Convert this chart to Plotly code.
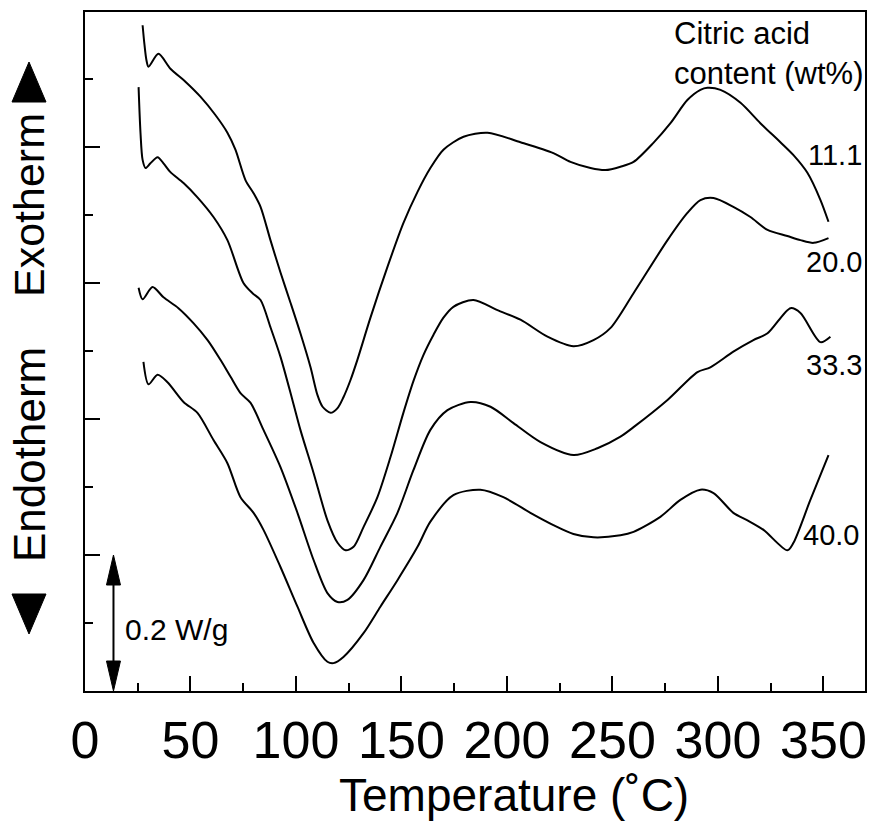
import plotly.graph_objects as go

# ---- data (Temperature in deg C, heat flow in W/g, curves offset) ----
temp_11 = [27.3, 28.2, 29.1, 30.1, 34.8, 40.5, 47.6, 54.7, 61.8, 67.5, 71.3, 76.1, 79.9, 83.2, 87.9,
           92.7, 97.4, 102.1, 106.9, 110.2, 112.6, 116.4, 119.7, 122.5, 125.8, 129.1, 135.3, 143.4,
           150.9, 157.6, 163.7, 169.9, 179.4, 190.8, 206.4, 222.0, 230.1, 239.6, 246.7, 253.8, 260.0,
           269.4, 277.5, 285.5, 291.7, 295.0, 301.2, 310.7, 320.1, 329.6, 335.8, 342.4, 348.6, 352.4]
flow_11 = [0.979, 0.950, 0.928, 0.918, 0.937, 0.915, 0.896, 0.874, 0.847, 0.821, 0.796, 0.751, 0.732,
           0.712, 0.663, 0.615, 0.571, 0.526, 0.476, 0.435, 0.418, 0.409, 0.416, 0.432, 0.457, 0.487,
           0.549, 0.624, 0.688, 0.734, 0.769, 0.796, 0.815, 0.821, 0.807, 0.791, 0.778, 0.769, 0.766,
           0.771, 0.778, 0.806, 0.835, 0.869, 0.884, 0.887, 0.884, 0.865, 0.835, 0.807, 0.788, 0.762,
           0.722, 0.690]

temp_20 = [25.4, 26.3, 27.3, 28.7, 31.0, 34.4, 37.2, 40.5, 46.7, 53.3, 60.9, 67.5, 75.1, 79.4, 83.2,
           87.9, 92.7, 98.3, 102.1, 108.3, 114.9, 119.7, 123.5, 127.3, 132.0, 138.6, 144.8, 150.9,
           155.7, 160.4, 165.2, 169.9, 174.6, 184.1, 195.5, 206.4, 219.2, 231.5, 241.0, 249.1, 260.0,
           276.1, 285.5, 291.7, 297.9, 307.3, 315.4, 323.5, 332.9, 339.1, 345.3, 352.4]
flow_20 = [0.888, 0.821, 0.781, 0.769, 0.776, 0.785, 0.776, 0.763, 0.747, 0.726, 0.697, 0.663, 0.600,
           0.585, 0.575, 0.535, 0.491, 0.428, 0.384, 0.321, 0.251, 0.218, 0.207, 0.212, 0.241, 0.285,
           0.344, 0.409, 0.456, 0.494, 0.524, 0.549, 0.565, 0.575, 0.560, 0.546, 0.521, 0.507, 0.516,
           0.534, 0.585, 0.663, 0.703, 0.722, 0.725, 0.712, 0.697, 0.678, 0.669, 0.663, 0.659, 0.666]

temp_33 = [25.4, 27.3, 32.0, 37.2, 44.3, 51.4, 58.1, 64.2, 69.0, 73.7, 78.4, 84.6, 92.7, 100.7, 108.3,
           114.9, 119.7, 124.4, 132.0, 140.0, 148.1, 155.7, 163.7, 171.8, 182.7, 192.2, 203.1, 215.9,
           231.5, 242.9, 253.8, 260.0, 276.1, 290.3, 296.4, 307.3, 316.8, 323.5, 334.4, 339.1, 348.6,
           353.3]
flow_33 = [0.593, 0.576, 0.594, 0.579, 0.563, 0.541, 0.516, 0.487, 0.462, 0.438, 0.424, 0.384, 0.329,
           0.262, 0.193, 0.144, 0.131, 0.134, 0.163, 0.212, 0.262, 0.325, 0.384, 0.413, 0.425, 0.418,
           0.394, 0.366, 0.347, 0.357, 0.374, 0.388, 0.428, 0.469, 0.476, 0.499, 0.516, 0.526, 0.563,
           0.556, 0.513, 0.521]

temp_40 = [27.7, 30.1, 34.4, 39.1, 46.7, 53.3, 60.9, 67.5, 73.7, 79.9, 84.6, 92.7, 100.7, 108.3, 114.9,
           117.8, 122.5, 132.0, 140.0, 148.1, 157.6, 163.7, 174.6, 187.4, 198.3, 211.1, 222.0, 231.5,
           241.0, 253.8, 260.0, 272.7, 282.2, 291.7, 297.9, 307.3, 314.0, 321.6, 332.9, 335.8, 343.8,
           352.4]
flow_40 = [0.484, 0.451, 0.465, 0.454, 0.425, 0.409, 0.369, 0.335, 0.285, 0.262, 0.237, 0.182, 0.124,
           0.071, 0.043, 0.041, 0.050, 0.085, 0.124, 0.163, 0.212, 0.249, 0.288, 0.296, 0.285, 0.262,
           0.244, 0.231, 0.226, 0.229, 0.234, 0.256, 0.281, 0.296, 0.291, 0.262, 0.251, 0.237, 0.207,
           0.218, 0.281, 0.347]

series_labels = ["11.1", "20.0", "33.3", "40.0"]
label_x = [355.7, 355.2, 355.2, 353.8]
label_y = [0.788, 0.631, 0.479, 0.229]

x_tick_vals = [0, 50, 100, 150, 200, 250, 300, 350]
x_tick_text = ["0", "50", "100", "150", "200", "250", "300", "350"]

scale_bar_x = 13.5
scale_bar_low = 0.0
scale_bar_high = 0.2
scale_bar_text = "0.2 W/g"

X_RANGE = [0, 369.7]
Y_RANGE = [0, 0.9985]

# ---- figure ----
W, H = 877, 829
L, R, T, B = 85, 12, 12, 138
pw, ph = W - L - R, H - T - B

def px_paper(px, py):
    return (px - L) / pw, (H - B - py) / ph

SANS = "Liberation Sans, Arial, sans-serif"

fig = go.Figure()
for tx, fy in [(temp_11, flow_11), (temp_20, flow_20), (temp_33, flow_33), (temp_40, flow_40)]:
    fig.add_trace(go.Scatter(x=tx, y=fy, mode="lines",
                             line=dict(color="black", width=2, shape="spline", smoothing=0.8),
                             showlegend=False, hoverinfo="skip"))

annotations = []
for lab, lx, ly in zip(series_labels, label_x, label_y):
    annotations.append(dict(x=lx, y=ly, xref="x", yref="y", text=lab, showarrow=False,
                            xanchor="center", yanchor="middle",
                            font=dict(family=SANS, size=29, color="black")))

annotations.append(dict(x=278.0, y=0.995, xref="x", yref="y",
                        text="Citric acid<br>content (wt%)", showarrow=False,
                        xanchor="left", yanchor="top", align="left",
                        font=dict(family=SANS, size=31, color="black")))

# scale bar text
annotations.append(dict(x=scale_bar_x + 4.5, y=(scale_bar_low + scale_bar_high) / 2 - 0.01,
                        xref="x", yref="y", text=scale_bar_text, showarrow=False,
                        xanchor="left", yanchor="middle",
                        font=dict(family=SANS, size=30, color="black")))

# x axis title
tx_, ty_ = px_paper(514, 795)
annotations.append(dict(x=tx_, y=ty_, xref="paper", yref="paper", text="Temperature (˚C)",
                        showarrow=False, xanchor="center", yanchor="middle",
                        font=dict(family=SANS, size=46, color="black")))

# Exotherm / Endotherm side labels
ex, ey = px_paper(29, 205)
annotations.append(dict(x=ex, y=ey, xref="paper", yref="paper", text="Exotherm", textangle=-90,
                        showarrow=False, xanchor="center", yanchor="middle",
                        font=dict(family=SANS, size=43, color="black")))
nx, ny = px_paper(29, 455)
annotations.append(dict(x=nx, y=ny, xref="paper", yref="paper", text="Endotherm", textangle=-90,
                        showarrow=False, xanchor="center", yanchor="middle",
                        font=dict(family=SANS, size=44, color="black")))

shapes = []
def tri(points):
    pts = [px_paper(a, b) for a, b in points]
    path = "M " + " L ".join(f"{p[0]},{p[1]}" for p in pts) + " Z"
    return dict(type="path", xref="paper", yref="paper", path=path,
                fillcolor="black", line=dict(color="black", width=1))
shapes.append(tri([(12, 102), (46, 102), (29, 62)]))
shapes.append(tri([(12, 594), (46, 594), (29, 634)]))

# scale bar (double arrow) in data coordinates
xpu = pw / (X_RANGE[1] - X_RANGE[0])
ypu = ph / (Y_RANGE[1] - Y_RANGE[0])
hw = 7 / xpu
hl = 30 / ypu
shapes.append(dict(type="line", xref="x", yref="y", x0=scale_bar_x, x1=scale_bar_x,
                   y0=scale_bar_low + hl * 0.5, y1=scale_bar_high - hl * 0.5,
                   line=dict(color="black", width=2)))
for tip, base in [(scale_bar_high, scale_bar_high - hl), (scale_bar_low, scale_bar_low + hl)]:
    shapes.append(dict(type="path", xref="x", yref="y",
                       path=f"M {scale_bar_x - hw},{base} L {scale_bar_x + hw},{base} L {scale_bar_x},{tip} Z",
                       fillcolor="black", line=dict(color="black", width=1)))

fig.update_layout(
    width=W, height=H, margin=dict(l=L, r=R, t=T, b=B, autoexpand=False),
    paper_bgcolor="white", plot_bgcolor="white",
    annotations=annotations, shapes=shapes, showlegend=False,
)
fig.update_xaxes(range=X_RANGE, showgrid=False, zeroline=False, automargin=False,
                 showline=True, linecolor="black", linewidth=2, mirror=True,
                 ticks="inside", ticklen=15, tickwidth=2, tickcolor="black",
                 tickvals=x_tick_vals, ticktext=x_tick_text, ticklabelstandoff=3,
                 tickfont=dict(family=SANS, size=52, color="black"),
                 minor=dict(ticks="inside", ticklen=8, tickwidth=2, tickcolor="black", dtick=25,
                            tick0=0, showgrid=False))
fig.update_yaxes(range=Y_RANGE, showgrid=False, zeroline=False, automargin=False,
                 showline=True, linecolor="black", linewidth=2, mirror=True,
                 ticks="inside", ticklen=15, tickwidth=2, tickcolor="black",
                 tick0=0, dtick=0.2, showticklabels=False,
                 minor=dict(ticks="inside", ticklen=8, tickwidth=2, tickcolor="black", dtick=0.1,
                            tick0=0, showgrid=False))

fig.write_html("out.html", config={"displayModeBar": False},
               post_script="document.body.style.margin='0';document.body.style.overflow='hidden';")
